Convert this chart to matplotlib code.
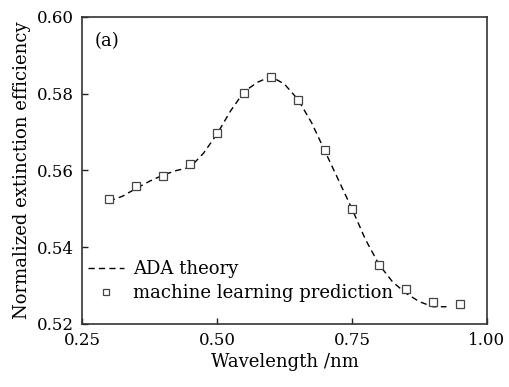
import numpy as np
import matplotlib
matplotlib.use('Agg')
import matplotlib.pyplot as plt

# ADA theory curve
wl_theory = [0.300, 0.325, 0.350, 0.375, 0.400, 0.425, 0.450, 0.475, 0.500,
             0.525, 0.550, 0.575, 0.600, 0.625, 0.650, 0.675, 0.700, 0.725,
             0.750, 0.775, 0.800, 0.825, 0.850, 0.875, 0.900, 0.925]
eff_theory = [0.5520, 0.5533, 0.5553, 0.5572, 0.5588, 0.5600, 0.5608, 0.5645,
              0.5695, 0.5755, 0.5805, 0.5830, 0.5845, 0.5825, 0.5785, 0.5725,
              0.5650, 0.5575, 0.5500, 0.5420, 0.5355, 0.5310, 0.5280, 0.5258,
              0.5245, 0.5245]

# machine learning prediction
wl_ml = [0.30, 0.35, 0.40, 0.45, 0.50, 0.55, 0.60, 0.65, 0.70, 0.75, 0.80,
         0.85, 0.90, 0.95]
eff_ml = [0.5526, 0.5560, 0.5586, 0.5617, 0.5698, 0.5802, 0.5844, 0.5784,
          0.5653, 0.5500, 0.5354, 0.5291, 0.5257, 0.5252]

xticks = [0.25, 0.50, 0.75, 1.00]
yticks = [0.52, 0.54, 0.56, 0.58, 0.60]

plt.rcParams['font.family'] = ['DejaVu Serif']

fig = plt.figure(figsize=(5.10, 3.87), dpi=100)
ax = fig.add_axes([0.1608, 0.1628, 0.7941, 0.7933])

ax.plot(wl_theory, eff_theory, color='black', linestyle=(0, (4.5, 3)), linewidth=1.0,
        label='ADA theory')
ax.plot(wl_ml, eff_ml, linestyle='none', marker='s', markersize=5.8,
        markerfacecolor='white', markeredgecolor='#444444', markeredgewidth=0.9,
        label='machine learning prediction')

ax.set_xlim(0.25, 1.00)
ax.set_ylim(0.52, 0.60)
ax.set_xticks(xticks)
ax.set_yticks(yticks)
ax.set_xticklabels(['%.2f' % v for v in xticks])
ax.set_yticklabels(['%.2f' % v for v in yticks])
ax.tick_params(direction='in', length=4, width=1.0, labelsize=12, pad=6,
               colors='#222222', labelcolor='black')
for s in ax.spines.values():
    s.set_linewidth(1.2)
    s.set_color('#333333')

ax.set_xlabel('Wavelength /nm', fontsize=13, labelpad=3)
ax.set_ylabel('Normalized extinction efficiency', fontsize=13, labelpad=4)
ax.text(0.03, 0.95, '(a)', transform=ax.transAxes, fontsize=13, va='top')

ax.legend(loc='lower left', bbox_to_anchor=(-0.012, 0.035), frameon=False,
          fontsize=13, handlelength=2.0, borderaxespad=0.2, labelspacing=0.35,
          handletextpad=0.5, markerscale=0.65)

fig.savefig('out.png', dpi=100)
